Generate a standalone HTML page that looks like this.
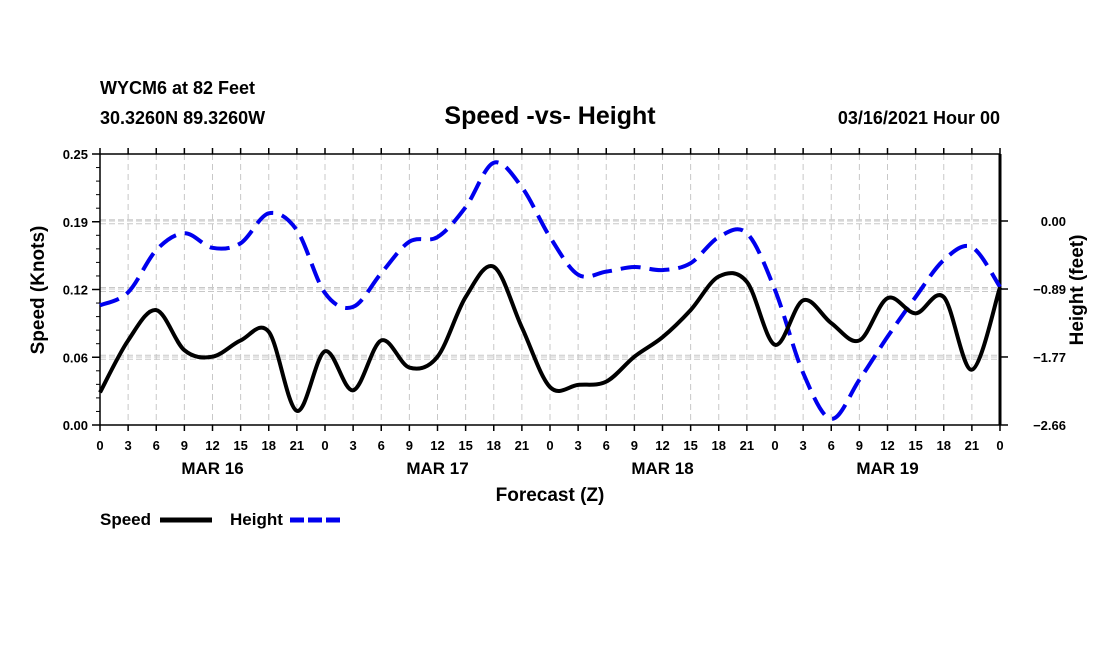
<!DOCTYPE html>
<html><head><meta charset="utf-8"><style>
body{margin:0;background:#fff;}
svg text{font-family:"Liberation Sans",Arial,sans-serif;font-weight:bold;fill:#000;}
</style></head><body>
<svg width="1100" height="650" viewBox="0 0 1100 650">
<g id="grid"></g>
<g id="axes"></g>
<g id="series"></g>
<text x="100" y="94" font-size="18">WYCM6 at 82 Feet</text>
<text x="100" y="124" font-size="18">30.3260N 89.3260W</text>
<text x="550" y="124" font-size="25" text-anchor="middle">Speed -vs- Height</text>
<text x="1000" y="124" font-size="18" text-anchor="end">03/16/2021 Hour 00</text>
<text x="550" y="501" font-size="19" text-anchor="middle">Forecast (Z)</text>
<text transform="translate(44,290) rotate(-90)" font-size="19" text-anchor="middle">Speed (Knots)</text>
<text transform="translate(1083,290) rotate(-90)" font-size="19" text-anchor="middle">Height (feet)</text>
<g>
<text x="100" y="525" font-size="17">Speed</text>
<line x1="160" y1="520" x2="212" y2="520" stroke="#000" stroke-width="5"/>
</g>
<g>
<text x="230" y="525" font-size="17">Height</text>
<line x1="290" y1="520" x2="342" y2="520" stroke="#0000ee" stroke-width="5" stroke-dasharray="14,4"/>
</g>
</svg>
<script>
const hourLabels=["0","3","6","9","12","15","18","21","0","3","6","9","12","15","18","21","0","3","6","9","12","15","18","21","0","3","6","9","12","15","18","21","0"];
const dayLabels=["MAR 16","MAR 17","MAR 18","MAR 19"];
const speedTicks=[0,0.0625,0.125,0.1875,0.25];
const speedTickLabels=["0.00","0.06","0.12","0.19","0.25"];
const heightTicks=[0,-0.887,-1.773,-2.66];
const heightTickLabels=["0.00","−0.89","−1.77","−2.66"];
const speedValues=[0.030,0.078,0.106,0.069,0.063,0.078,0.086,0.013,0.068,0.032,0.078,0.053,0.063,0.118,0.146,0.090,0.035,0.037,0.040,0.063,0.081,0.106,0.137,0.132,0.074,0.115,0.094,0.078,0.117,0.103,0.118,0.051,0.127];
const heightValues=[-1.10,-0.93,-0.38,-0.16,-0.35,-0.29,0.10,-0.12,-0.94,-1.12,-0.68,-0.27,-0.21,0.18,0.76,0.44,-0.21,-0.70,-0.66,-0.60,-0.64,-0.55,-0.21,-0.16,-0.90,-1.98,-2.58,-2.07,-1.51,-0.99,-0.51,-0.34,-0.86];

const L=100,R=1000,T=154,B=425;
const NS="http://www.w3.org/2000/svg";
const xS=i=>L+(R-L)*i/(hourLabels.length-1);
const yS=v=>B-(B-T)*v/0.25;
const yH=h=>221-h*(204/2.66);
function mk(tag,attrs,parent){const e=document.createElementNS(NS,tag);for(const k in attrs)e.setAttribute(k,attrs[k]);parent.appendChild(e);return e;}
const grid=document.getElementById('grid'),axes=document.getElementById('axes'),series=document.getElementById('series');
hourLabels.forEach((lab,i)=>{
  const x=xS(i);
  if(i>0&&i<hourLabels.length-1){const g=mk('line',{x1:x,y1:T,x2:x,y2:B,stroke:'#c8c8c8','stroke-width':1,'stroke-dasharray':'6,4'},grid);
  
  }
  mk('line',{x1:x,y1:B,x2:x,y2:B+6,stroke:'#000','stroke-width':1.5},axes);
  mk('line',{x1:x,y1:T,x2:x,y2:T-6,stroke:'#000','stroke-width':1.5},axes);
  const t=mk('text',{x:x,y:450,'font-size':13,'text-anchor':'middle'},axes);t.textContent=lab;
  
  
});
dayLabels.forEach((d,k)=>{const t=mk('text',{x:xS(k*8+4),y:474,'font-size':17,'text-anchor':'middle'},axes);t.textContent=d;
  
  });
speedTicks.forEach((v,k)=>{const y=yS(v);
  if(k>0&&k<speedTicks.length-1){mk('line',{x1:L,y1:y-2,x2:R,y2:y-2,stroke:'#c8c8c8','stroke-dasharray':'6,3'},grid);mk('line',{x1:L,y1:y+2,x2:R,y2:y+2,stroke:'#c8c8c8','stroke-dasharray':'6,3'},grid);}
  mk('line',{x1:L-8,y1:y,x2:L,y2:y,stroke:'#000','stroke-width':1.5},axes);
  const t=mk('text',{x:L-12,y:y+5,'font-size':13,'text-anchor':'end'},axes);t.textContent=speedTickLabels[k];
  
  });
for(let k=0;k<=20;k++){const y=B-(B-T)*k/20;mk('line',{x1:L-4,y1:y,x2:L,y2:y,stroke:'#000'},axes);}
heightTicks.forEach((h,k)=>{const y=yH(h);
  mk('line',{x1:L,y1:y,x2:R,y2:y,stroke:'#c8c8c8','stroke-dasharray':'6,3'},grid);
  mk('line',{x1:R,y1:y,x2:R+8,y2:y,stroke:'#000','stroke-width':1.5},axes);
  const t=mk('text',{x:1066,y:y+5,'font-size':13,'text-anchor':'end'},axes);t.textContent=heightTickLabels[k];
  
  });
mk('line',{x1:L,y1:T,x2:R,y2:T,stroke:'#000','stroke-width':1.5},axes);
mk('line',{x1:L,y1:B,x2:R,y2:B,stroke:'#000','stroke-width':1.5},axes);
mk('line',{x1:L,y1:T,x2:L,y2:B,stroke:'#000','stroke-width':1.5},axes);
mk('line',{x1:R,y1:T,x2:R,y2:B,stroke:'#000','stroke-width':3},axes);
function smooth(pts){let d='M'+pts[0][0]+','+pts[0][1];for(let i=0;i<pts.length-1;i++){const p0=pts[Math.max(0,i-1)],p1=pts[i],p2=pts[i+1],p3=pts[Math.min(pts.length-1,i+2)];
 d+=' C'+(p1[0]+(p2[0]-p0[0])/6)+','+(p1[1]+(p2[1]-p0[1])/6)+' '+(p2[0]-(p3[0]-p1[0])/6)+','+(p2[1]-(p3[1]-p1[1])/6)+' '+p2[0]+','+p2[1];}return d;}
const hp=mk('path',{d:smooth(heightValues.map((h,i)=>[xS(i),yH(h)])),fill:'none',stroke:'#0000ee','stroke-width':4,'stroke-dasharray':'20,9'},series);


const sp=mk('path',{d:smooth(speedValues.map((v,i)=>[xS(i),yS(v)])),fill:'none',stroke:'#000','stroke-width':4},series);


</script>
</body></html>
